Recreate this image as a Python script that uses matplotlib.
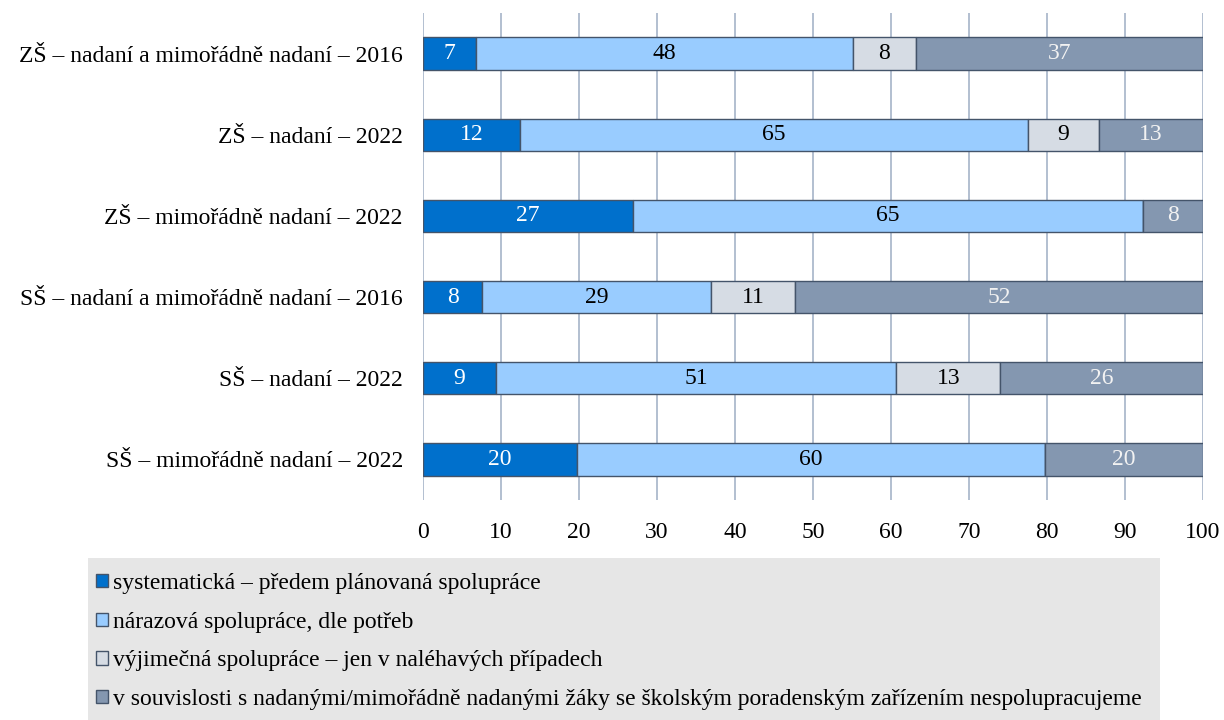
import matplotlib.pyplot as plt
from matplotlib.patches import Rectangle

plt.rcParams['font.family'] = ['Liberation Serif', 'DejaVu Serif']

categories = [
    'ZŠ – nadaní a mimořádně nadaní – 2016',
    'ZŠ – nadaní – 2022',
    'ZŠ – mimořádně nadaní – 2022',
    'SŠ – nadaní a mimořádně nadaní – 2016',
    'SŠ – nadaní – 2022',
    'SŠ – mimořádně nadaní – 2022',
]

series_names = [
    'systematická – předem plánovaná spolupráce',
    'nárazová spolupráce, dle potřeb',
    'výjimečná spolupráce – jen v naléhavých případech',
    'v souvislosti s nadanými/mimořádně nadanými žáky se školským poradenským zařízením nespolupracujeme',
]

systematicka = [6.85, 12.4, 26.9, 7.6, 9.3, 19.7]
narazova = [48.25, 65.1, 65.4, 29.3, 51.4, 60.1]
vyjimecna = [8.1, 9.2, 0.0, 10.8, 13.3, 0.0]
nespolupracujeme = [36.8, 13.3, 7.7, 52.3, 26.0, 20.2]

series = [systematicka, narazova, vyjimecna, nespolupracujeme]
colors = ['#0070cc', '#99ccff', '#d6dce4', '#8497b0']
text_colors = ['white', 'black', 'black', '#f2f2f2']

fig = plt.figure(figsize=(12.24, 7.2), dpi=100)

# legend background panel
fig.patches.append(Rectangle((88 / 1224, 0), (1160 - 88) / 1224, 162 / 720,
                             transform=fig.transFigure, facecolor='#e6e6e6',
                             edgecolor='none', zorder=0))

ax = fig.add_axes([423 / 1224, 1 - 500 / 720, 780 / 1224, 487 / 720])

y = list(range(len(categories)))
left = [0.0] * len(categories)
for vals, col, tcol, name in zip(series, colors, text_colors, series_names):
    ax.barh(y, vals, left=left, height=0.40, color=col,
            edgecolor='#44546a', linewidth=1.0, label=name, zorder=3)
    for yi, l, v in zip(y, left, vals):
        if v > 0:
            ax.text(l + v / 2, yi, f'{round(v):.0f}', ha='center', va='center',
                    color=tcol, fontsize=17, zorder=4)
    left = [l + v for l, v in zip(left, vals)]

ax.set_xlim(0, 100)
ax.set_ylim(5.5, -0.5)
ax.set_xticks(range(0, 101, 10))
ax.set_yticks(y)
ax.set_yticklabels(categories)
ax.tick_params(axis='x', length=0, pad=15.5, labelsize=17)
ax.tick_params(axis='y', length=0, pad=14.5, labelsize=17)
ax.grid(axis='x', color='#a6b4c8', linewidth=1.2, zorder=0)
for s in ax.spines.values():
    s.set_visible(False)

handles, labels = ax.get_legend_handles_labels()
fig.legend(handles, labels, loc='upper left', bbox_to_anchor=(96 / 1224, 1 - 573 / 720),
           frameon=False, fontsize=17, handlelength=0.5, handleheight=0.5,
           handletextpad=0.2, labelspacing=0.75, borderpad=0, borderaxespad=0)

fig.savefig('out.png', dpi=100)
